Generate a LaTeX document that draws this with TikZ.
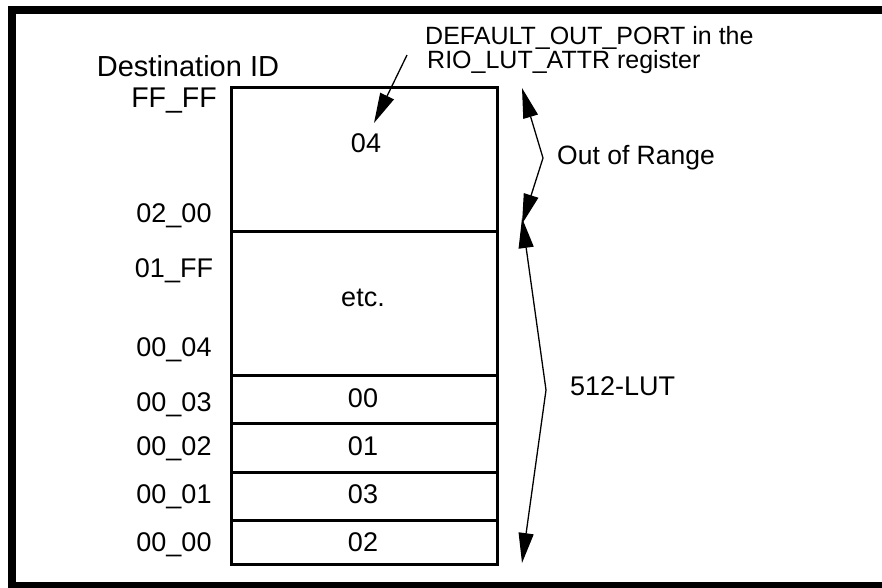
\documentclass[tikz,border=0pt]{standalone}
\usepackage{fontspec}
\setmainfont{Liberation Sans}
\usetikzlibrary{arrows.meta}
\begin{document}
\begin{tikzpicture}[x=1pt,y=-1pt,
  cell/.style={draw,line width=2.5pt,minimum width=266pt,inner sep=0pt,anchor=north west},
  maintxt/.style={font=\fontsize{27}{32}\selectfont,inner sep=0pt},
  notetxt/.style={font=\fontsize{25}{23}\selectfont,inner sep=0pt,align=left,anchor=north west},
  conn/.style={line width=1.3pt,line join=miter},
  bigtip/.tip={Triangle[length=30pt,width=15pt]}]
\useasboundingbox (0,0) rectangle (882,587);
% frame
\draw[line width=8pt] (930,10) -- (12,10) -- (12,586) -- (930,586);
% table cells
\node[cell,minimum height=144pt] (c04) at (230,86) {};
\node[cell,minimum height=144pt] (cetc) at (230,230) {};
\node[cell,minimum height=48pt] (c00) at (230,374) {};
\node[cell,minimum height=49pt] (c01) at (230,422) {};
\node[cell,minimum height=48pt] (c03) at (230,471) {};
\node[cell,minimum height=44pt] (c02) at (230,519) {};
% cell texts
\node[maintxt] (t04) at (366,143) {04};
\node[maintxt] (tetc) at (363,298) {etc.};
\node[maintxt] (t00) at (363,398) {00};
\node[maintxt] (t01) at (363,446) {01};
\node[maintxt] (t03) at (363,494) {03};
\node[maintxt] (t02) at (363,542) {02};
% left labels
\node[maintxt,font=\fontsize{29}{34}\selectfont] (dest) at (188,66) {Destination ID};
\node[maintxt,font=\fontsize{28.5}{34}\selectfont] (lFFFF) at (174,101) {FF\_FF};
\node[maintxt] (l0200) at (174,216) {02\_00};
\node[maintxt] (l01FF) at (174,271) {01\_FF};
\node[maintxt] (l0004) at (174,350) {00\_04};
\node[maintxt] (l0003) at (174,405) {00\_03};
\node[maintxt] (l0002) at (174,449) {00\_02};
\node[maintxt] (l0001) at (174,497) {00\_01};
\node[maintxt] (l0000) at (174,545) {00\_00};
% annotation
\node[notetxt] (note) at (425,26) {DEFAULT\_OUT\_PORT in the\\\hspace*{2pt}RIO\_LUT\_ATTR register};
\coordinate (noteStart) at (407,55);
\coordinate (noteTip) at (374,123);
\draw[conn,-bigtip] (noteStart) -- (noteTip);
% out of range bracket
\coordinate (oTop) at (522,88);
\coordinate (oKink) at (543,158);
\coordinate (oBot) at (522,224);
\draw[conn,bigtip-bigtip] (oTop) -- (oKink) -- (oBot);
\node[maintxt,anchor=west,font=\fontsize{26.5}{32}\selectfont] (oor) at (557,158) {Out of Range};
% 512-LUT bracket
\coordinate (lTop) at (522,218);
\coordinate (lKink) at (546,390);
\coordinate (lBot) at (522,563);
\draw[conn,bigtip-bigtip] (lTop) -- (lKink) -- (lBot);
\node[maintxt,anchor=west] (lut) at (570,386) {512-LUT};
\end{tikzpicture}
\end{document}
